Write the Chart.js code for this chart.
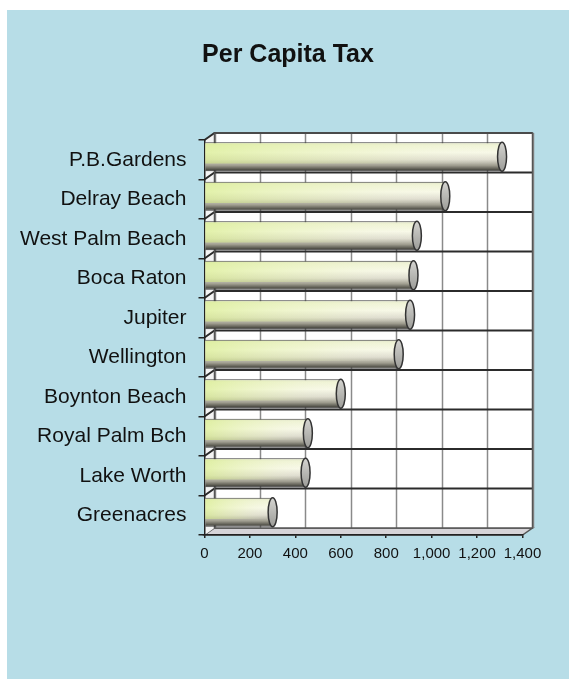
<!DOCTYPE html>
<html>
<head>
<meta charset="utf-8">
<title>Per Capita Tax</title>
<script src="https://cdn.jsdelivr.net/npm/chart.js@4.4.0/dist/chart.umd.min.js"></script>
<style>
  html, body { margin: 0; padding: 0; background: #fff; }
  #panel { position: absolute; left: 7px; top: 10px; width: 562px; height: 669px; background: #b7dde7; }
</style>
</head>
<body>
<div id="panel"><canvas id="taxChart"></canvas></div>
<script>
// Per capita tax by city
const cities = ['P.B.Gardens', 'Delray Beach', 'West Palm Beach', 'Boca Raton', 'Jupiter',
                'Wellington', 'Boynton Beach', 'Royal Palm Bch', 'Lake Worth', 'Greenacres'];
const perCapitaTax = [1310, 1060, 935, 920, 905, 855, 600, 455, 445, 300];
const xTicks = [0, 200, 400, 600, 800, 1000, 1200, 1400];

// offset of the back wall from the front of the plot (fake 3D depth)
const DEPTH_X = 10;
const DEPTH_Y = -7;
const BAR_SHIFT_Y = -3;

const FONT = "'Liberation Sans', Arial, sans-serif";

// Back wall, floor, side wall and grid lines
const wallPlugin = {
    id: 'wall3d',
    beforeDraw(chart) {
        const { ctx, chartArea: a, scales: { x, y } } = chart;
        const band = y.getPixelForValue(1) - y.getPixelForValue(0);
        ctx.save();

        // floor
        ctx.beginPath();
        ctx.moveTo(a.left, a.bottom);
        ctx.lineTo(a.right, a.bottom);
        ctx.lineTo(a.right + DEPTH_X, a.bottom + DEPTH_Y);
        ctx.lineTo(a.left + DEPTH_X, a.bottom + DEPTH_Y);
        ctx.closePath();
        ctx.fillStyle = '#d6d4d8';
        ctx.fill();
        ctx.strokeStyle = '#555';
        ctx.lineWidth = 1.5;
        ctx.stroke();

        // side wall
        ctx.beginPath();
        ctx.moveTo(a.left, a.top);
        ctx.lineTo(a.left + DEPTH_X, a.top + DEPTH_Y);
        ctx.lineTo(a.left + DEPTH_X, a.bottom + DEPTH_Y);
        ctx.lineTo(a.left, a.bottom);
        ctx.closePath();
        ctx.fillStyle = '#f4f4f4';
        ctx.fill();

        // back wall
        ctx.fillStyle = '#ffffff';
        ctx.fillRect(a.left + DEPTH_X, a.top + DEPTH_Y, a.width, a.height);

        // vertical grid lines
        ctx.strokeStyle = '#8a8a8a';
        ctx.lineWidth = 1.5;
        xTicks.forEach(v => {
            const px = Math.round(x.getPixelForValue(v) + DEPTH_X) + 0.5;
            ctx.beginPath();
            ctx.moveTo(px, a.top + DEPTH_Y);
            ctx.lineTo(px, a.bottom + DEPTH_Y);
            ctx.stroke();
        });

        // category separators
        ctx.strokeStyle = '#2b2b2b';
        ctx.lineWidth = 2;
        for (let i = 0; i < cities.length; i++) {
            const yb = y.getPixelForValue(i) - band / 2;
            ctx.beginPath();
            ctx.moveTo(a.left, yb);
            ctx.lineTo(a.left + DEPTH_X, yb + DEPTH_Y);
            ctx.lineTo(a.right + DEPTH_X, yb + DEPTH_Y);
            ctx.stroke();
        }

        // wall outline
        ctx.strokeStyle = '#555';
        ctx.lineWidth = 1.5;
        ctx.strokeRect(a.left + DEPTH_X, a.top + DEPTH_Y, a.width, a.height);
        ctx.restore();
    }
};

// Cylinder shading and end caps for the bars
const cylinderPlugin = {
    id: 'cylinders',
    beforeDatasetsDraw(chart) {
        const ctx = chart.ctx;
        chart.getDatasetMeta(0).data.forEach(bar => {
            const top = bar.y - bar.height / 2;
            const bottom = bar.y + bar.height / 2;
            const g = ctx.createLinearGradient(0, top, 0, bottom);
            g.addColorStop(0, '#dfe3c6');
            g.addColorStop(0.1, '#f0f4d6');
            g.addColorStop(0.35, '#f8f9e8');
            g.addColorStop(0.6, '#dedccf');
            g.addColorStop(0.8, '#a09e90');
            g.addColorStop(0.93, '#5a5950');
            g.addColorStop(1, '#2e2e2a');
            bar.options.backgroundColor = g;
        });
        ctx.save();
        ctx.translate(0, BAR_SHIFT_Y);
    },
    afterDatasetsDraw(chart) {
        const ctx = chart.ctx;
        chart.getDatasetMeta(0).data.forEach(bar => {
            const top = bar.y - bar.height / 2;
            const left = bar.base;
            const right = bar.x;

            // yellow-green tint fading towards the end of the bar
            const tint = ctx.createLinearGradient(left, 0, right, 0);
            tint.addColorStop(0, 'rgba(212, 236, 130, 0.6)');
            tint.addColorStop(0.55, 'rgba(228, 240, 175, 0.3)');
            tint.addColorStop(1, 'rgba(240, 240, 230, 0)');
            ctx.fillStyle = tint;
            ctx.fillRect(left, top + 1, right - left, bar.height * 0.7);

            // end cap
            const cap = ctx.createLinearGradient(0, top, 0, top + bar.height);
            cap.addColorStop(0, '#d4d4d0');
            cap.addColorStop(1, '#9c9c98');
            ctx.beginPath();
            ctx.ellipse(right, bar.y, 4.5, bar.height / 2, 0, 0, Math.PI * 2);
            ctx.fillStyle = cap;
            ctx.fill();
            ctx.strokeStyle = '#333';
            ctx.lineWidth = 1.5;
            ctx.stroke();
        });
        ctx.restore();
    }
};

const ctx = document.getElementById('taxChart').getContext('2d');
const taxChart = new Chart(ctx, {
    type: 'bar',
    data: {
        labels: cities,
        datasets: [{
            label: 'Per Capita Tax',
            data: perCapitaTax,
            // scriptable so each bar keeps its own options (gradient set per bar)
            backgroundColor: () => '#f2f5dc',
            borderColor: '#3a3a3a',
            borderWidth: { top: 1, right: 0, bottom: 1, left: 0 },
            borderSkipped: false,
            barPercentage: 0.73,
            categoryPercentage: 1,
            clip: false
        }]
    },
    options: {
        indexAxis: 'y',
        responsive: true,
        maintainAspectRatio: false,
        devicePixelRatio: 1,
        animation: false,
        layout: {
            padding: { left: 0, right: 0, top: 0, bottom: 114 }
        },
        plugins: {
            legend: { display: false },
            tooltip: { enabled: false },
            title: {
                display: true,
                text: 'Per Capita Tax',
                color: '#111',
                font: { family: FONT, size: 25, weight: 'bold' },
                padding: { top: 30, bottom: 70 }
            }
        },
        scales: {
            x: {
                min: 0,
                max: 1400,
                afterFit: scale => { scale.height = 30; },
                afterBuildTicks: scale => {
                    scale.ticks = xTicks.map(v => ({ value: v }));
                },
                ticks: {
                    color: '#111',
                    font: { family: FONT, size: 15 },
                    padding: 7,
                    maxRotation: 0,
                    callback: value => value.toLocaleString('en-US')
                },
                grid: {
                    drawOnChartArea: false,
                    tickLength: 3,
                    color: '#222',
                    lineWidth: 1.5
                },
                border: { display: true, color: '#222', width: 1.5 }
            },
            y: {
                afterFit: scale => { scale.width = 197.5; },
                ticks: {
                    color: '#111',
                    font: { family: FONT, size: 21 },
                    padding: 12
                },
                grid: {
                    drawOnChartArea: false,
                    offset: true,
                    tickLength: 6,
                    color: '#222',
                    lineWidth: 1.5
                },
                border: { display: true, color: '#222', width: 1.5 }
            },
            // empty right-hand axis that reserves the margin beside the plot
            spacer: {
                type: 'linear',
                position: 'right',
                afterFit: scale => { scale.width = 46.5; },
                ticks: { display: false },
                grid: { display: false },
                border: { display: false }
            }
        }
    },
    plugins: [wallPlugin, cylinderPlugin]
});
</script>
</body>
</html>
